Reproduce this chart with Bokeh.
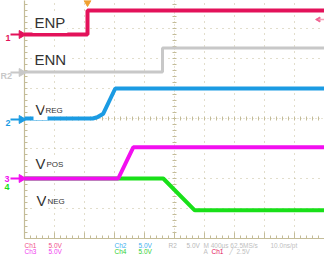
import numpy as np
from bokeh.plotting import figure
from bokeh.models import Range1d
from bokeh.core.properties import value
from bokeh.embed import file_html
from bokeh.resources import INLINE

# ---- data (time in ms relative to trigger, voltage in V) ----
VOLTS_PER_DIV = 5.0
MS_PER_DIV = 0.4

ch1_t = [-0.84, 0.0, 0.0, 3.16]
ch1_v = [0.0, 0.0, 4.0, 4.0]
ch1_off = 2.8            # ground position in divisions

r2_t = [-0.84, 1.0, 1.0, 3.16]
r2_v = [0.0, 0.0, 4.0, 4.0]
r2_off = 1.55

ch2_t = [-0.84, 0.07, 0.13, 0.21, 0.37, 3.16]
ch2_v = [0.0, 0.0, 0.2, 0.8, 5.0, 5.0]
ch2_off = 0.0

ch3_t = [-0.84, 0.41, 0.61, 3.16]
ch3_v = [0.0, 0.0, 5.2, 5.2]
ch3_off = -2.0

ch4_t = [-0.84, 1.01, 1.43, 3.16]
ch4_v = [0.0, 0.0, -5.3, -5.3]
ch4_off = -2.0

labels = ["ENP", "ENN", "V", "V", "V"]
subs = ["", "", "REG", "POS", "NEG"]

C1 = "#e3125a"
C2 = "#1b9be3"
C3 = "#f20ff0"
C4 = "#18e018"
CR = "#c8c8c8"
GRID = "#c4bc98"
TXT = "#333333"

# pixel -> data helpers (frame covers whole 324x255 canvas)
def X(px):
    return (px - 87) / 30 * MS_PER_DIV

def Y(py):
    return (118 - py) / 30

p = figure(width=324, height=255, output_backend="svg", toolbar_location=None,
           x_range=Range1d(X(0), X(324)), y_range=Range1d(Y(255), Y(0)),
           x_axis_location=None, y_axis_location=None, min_border=0,
           outline_line_color=None, background_fill_color="white")
p.grid.visible = False

# ---- graticule ----
xl, xr = X(24), X(324)
yb, yt = Y(238), Y(-2)
gx = [X(24 + 30 * k) for k in range(1, 10) if k != 5]
gy = [Y(118 + 30 * k) for k in (-3, -2, -1, 1, 2, 3)]
p.segment(x0=gx, y0=[yb] * len(gx), x1=gx, y1=[yt] * len(gx),
          line_color=GRID, line_width=1, line_dash="1 5")
p.segment(x0=[xl] * len(gy), y0=gy, x1=[xr] * len(gy), y1=gy,
          line_color=GRID, line_width=1, line_dash="1 5")
# center axes
p.segment(x0=[X(174), xl], y0=[yb, 0], x1=[X(174), xr], y1=[yt, 0],
          line_color=GRID, line_width=1, line_dash="1 2", line_alpha=0.8)
# center axis minor ticks
ty = np.arange(-4, 4.01, 0.2)
p.segment(x0=X(172), y0=ty, x1=X(176), y1=ty, line_color=GRID, line_width=1)
tx = np.array([X(24 + 6 * k) for k in range(0, 51)])
p.segment(x0=tx, y0=Y(116), x1=tx, y1=Y(120), line_color=GRID, line_width=1)
# border lines and ticks
p.segment(x0=[xl, xl], y0=[yb, yb], x1=[xl, xr], y1=[yt, yb],
          line_color=GRID, line_width=1.2)
p.segment(x0=X(24), y0=ty, x1=X(27), y1=ty, line_color=GRID, line_width=1)
p.segment(x0=tx, y0=yb, x1=tx, y1=Y(235), line_color=GRID, line_width=1)
tmaj = np.array([X(24 + 30 * k) for k in range(0, 11)])
p.segment(x0=tmaj, y0=yb, x1=tmaj, y1=Y(232), line_color=GRID, line_width=1)

# ---- traces ----
def tr(v, off):
    return [off + vv / VOLTS_PER_DIV for vv in v]

p.line(r2_t, tr(r2_v, r2_off), line_color=CR, line_width=3)
p.line(ch1_t, tr(ch1_v, ch1_off), line_color=C1, line_width=4)
p.line(ch2_t, tr(ch2_v, ch2_off), line_color=C2, line_width=4)
p.line(ch4_t, tr(ch4_v, ch4_off), line_color=C4, line_width=4)
p.line(ch3_t, tr(ch3_v, ch3_off), line_color=C3, line_width=4)

# ---- signal labels ----
p.text(x=[X(32), X(32), X(33), X(33), X(34)],
       y=[Y(22), Y(59), Y(109), Y(163), Y(200)],
       text=labels, text_font=value("Liberation Sans"), text_font_size="15px",
       text_color=TXT, text_baseline="alphabetic",
       background_fill_color="white", padding=2)
p.text(x=[X(44), X(45), X(46)], y=[Y(110), Y(164), Y(201)],
       text=subs[2:], text_font=value("Liberation Sans"), text_font_size="8px",
       text_color=TXT, text_baseline="alphabetic",
       background_fill_color="white", padding=1)

# ---- channel ground markers ----
mk_y = [Y(34), Y(72), Y(119), Y(178)]
mk_c = [C1, CR, C2, C3]
p.segment(x0=X(10), y0=mk_y, x1=X(20), y1=mk_y, line_color=mk_c, line_width=2)
p.scatter(x=[X(21)] * 4, y=mk_y, marker="triangle", size=8, angle=-np.pi / 2,
          fill_color=mk_c, line_color=mk_c)
p.text(x=[X(5), X(0), X(5), X(4), X(4)],
       y=[Y(37), Y(75), Y(122), Y(178), Y(186)],
       text=["1", "R2", "2", "3", "4"],
       text_color=[C1, CR, C2, C3, C4], text_font=value("Liberation Sans"),
       text_font_size="9px", text_font_style="bold", text_baseline="alphabetic")

# trigger position / level markers
p.scatter(x=[X(87)], y=[Y(2)], marker="triangle", size=7, angle=np.pi,
          fill_color="#f0a030", line_color="#f0a030")
p.scatter(x=[X(318)], y=[Y(19)], marker="triangle", size=5, angle=np.pi / 2,
          fill_color="#f06090", line_color="#f06090")
p.segment(x0=X(318), y0=Y(19), x1=X(324), y1=Y(19), line_color="#f8a0b8", line_width=1.5)

# ---- status text ----
r1, r2 = Y(244.5), Y(251)
st_x = [X(24), X(48), X(24), X(48), X(114), X(138), X(114), X(138),
        X(168), X(186), X(203), X(270), X(203), X(211), X(228), X(236)]
st_y = [r1, r1, r2, r2, r1, r1, r2, r2, r1, r1, r1, r1, r2, r2, r2, r2]
st_t = ["Ch1", "5.0V", "Ch3", "5.0V", "Ch2", "5.0V", "Ch4", "5.0V",
        "R2", "5.0V", "M 400µs 62.5MS/s", "10.0ns/pt", "A", "Ch1", "╱", "2.5V"]
st_c = ["#f0508a", "#f0508a", "#f040f0", "#f040f0", "#40b0f0", "#40b0f0",
        "#30d030", "#30d030", "#b8b8b8", "#b8b8b8", "#c0c0c0", "#c0c0c0",
        "#c0c0c0", "#e3125a", "#c0c0c0", "#c0c0c0"]
p.text(x=st_x, y=st_y, text=st_t, text_color=st_c,
       text_font=value("Liberation Sans"), text_font_size="6.5px",
       text_baseline="alphabetic")

open("out.html", "w").write(file_html(p, INLINE))
